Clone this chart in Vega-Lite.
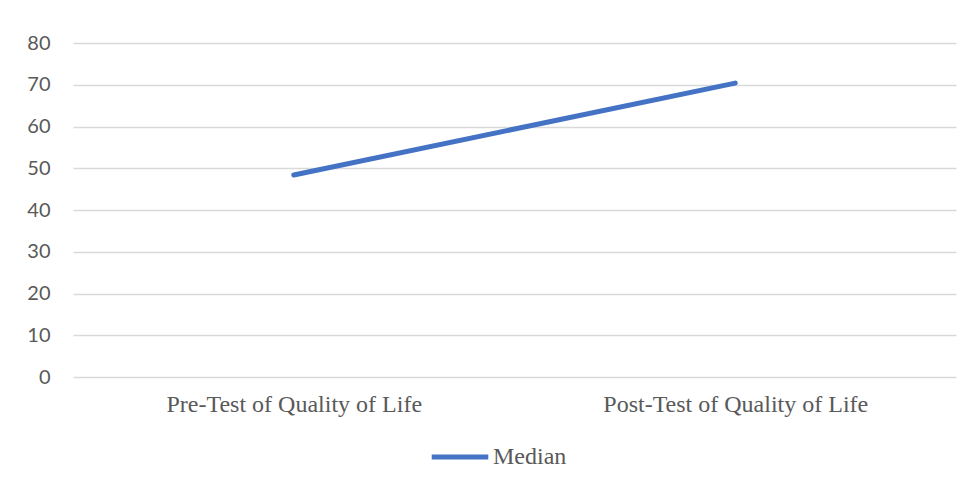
{
  "$schema": "https://vega.github.io/schema/vega-lite/v6.json",
  "width": 883,
  "height": 334,
  "autosize": "none",
  "padding": {"left": 73, "top": 43, "right": 14, "bottom": 110},
  "background": "white",
  "config": {"view": {"stroke": null}},
  "data": {"values": [
    {"test": "Pre-Test of Quality of Life", "value": 48.4, "series": "Median"},
    {"test": "Post-Test of Quality of Life", "value": 70.4, "series": "Median"}
  ]},
  "mark": {"type": "line", "strokeWidth": 5, "strokeCap": "round"},
  "encoding": {
    "x": {
      "field": "test", "type": "nominal", "sort": null,
      "scale": {"paddingInner": 0, "paddingOuter": 0},
      "axis": {"title": null, "labelAngle": 0, "ticks": false, "domain": false, "labelLimit": 0,
        "labelFont": "Liberation Serif", "labelFontSize": 24, "labelColor": "#595959", "labelPadding": 15}
    },
    "y": {
      "field": "value", "type": "quantitative",
      "scale": {"domain": [0, 80], "nice": false},
      "axis": {"title": null, "values": [0,10,20,30,40,50,60,70,80], "ticks": false, "domain": false,
        "grid": true, "gridColor": "#d9d9d9", "gridWidth": 1.3,
        "labelFont": "Lato", "labelFontSize": 20, "labelColor": "#595959", "labelPadding": 23}
    },
    "color": {
      "field": "series", "type": "nominal",
      "scale": {"range": ["#4472C4"]},
      "legend": {"title": null, "orient": "none", "legendX": 356, "legendY": 383,
        "symbolType": "stroke", "symbolSize": 3200, "symbolStrokeWidth": 5,
        "labelFont": "Liberation Serif", "labelFontSize": 24, "labelColor": "#595959", "labelOffset": 2}
    }
  }
}
